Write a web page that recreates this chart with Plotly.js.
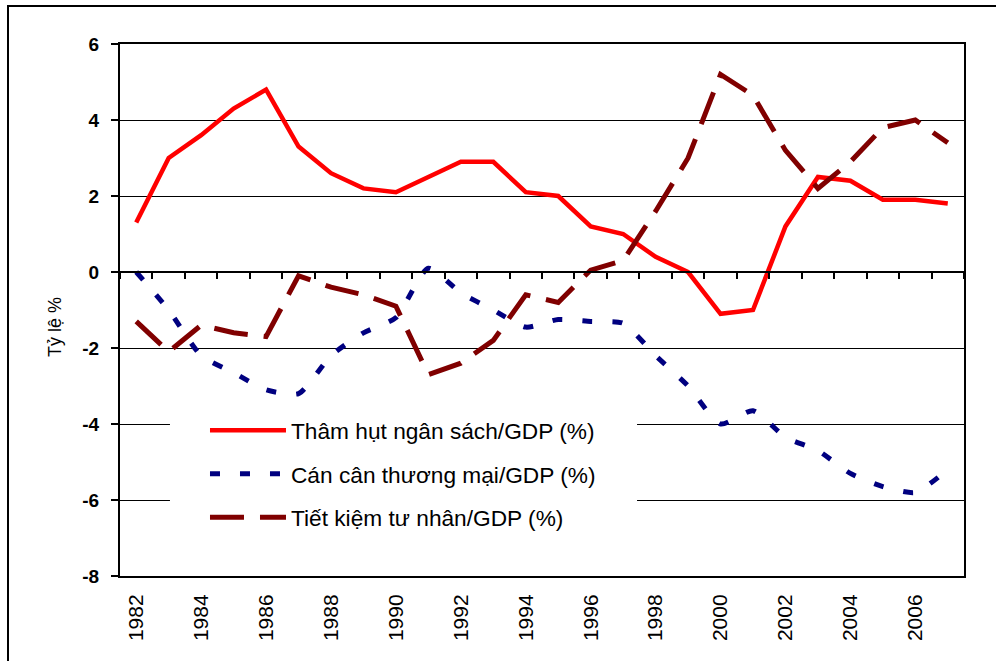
<!DOCTYPE html>
<html>
<head>
<meta charset="utf-8">
<script src="https://cdn.plot.ly/plotly-3.0.1.min.js"></script>
<style>html,body{margin:0;padding:0;background:#fff;}#chart{width:996px;height:661px;}</style>
</head>
<body>
<div id="chart"></div>
<script>
const years = ['1982','1983','1984','1985','1986','1987','1988','1989','1990','1991','1992','1993','1994','1995','1996','1997','1998','1999','2000','2001','2002','2003','2004','2005','2006','2007'];
const tickYears = ['1982','1984','1986','1988','1990','1992','1994','1996','1998','2000','2002','2004','2006'];
const yTickVals = [-8, -6, -4, -2, 0, 2, 4, 6];
const yTickText = ['-8', '-6', '-4', '-2', '0', '2', '4', '6'];
const budgetDeficit = [1.3, 3.0, 3.6, 4.3, 4.8, 3.3, 2.6, 2.2, 2.1, 2.5, 2.9, 2.9, 2.1, 2.0, 1.2, 1.0, 0.4, 0.0, -1.1, -1.0, 1.2, 2.5, 2.4, 1.9, 1.9, 1.8];
const tradeBalance = [0.0, -1.0, -2.2, -2.65, -3.1, -3.2, -2.2, -1.6, -1.2, 0.1, -0.55, -1.0, -1.45, -1.25, -1.3, -1.35, -2.2, -3.0, -4.0, -3.65, -4.35, -4.7, -5.3, -5.65, -5.8, -5.2];
const privateSaving = [-1.3, -2.1, -1.4, -1.6, -1.7, -0.1, -0.4, -0.6, -0.9, -2.7, -2.4, -1.8, -0.6, -0.8, 0.05, 0.3, 1.6, 3.0, 5.2, 4.65, 3.2, 2.2, 2.9, 3.8, 4.0, 3.4];
const seriesNames = ['Thâm hụt ngân sách/GDP (%)', 'Cán cân thương mại/GDP (%)', 'Tiết kiệm tư nhân/GDP (%)'];
const yTitle = 'Tỷ lệ %';

const FONT = 'Liberation Sans, Arial, sans-serif';

const traces = [
  {x: years, y: budgetDeficit, name: seriesNames[0], type: 'scatter', mode: 'lines',
   line: {color: '#FF0000', width: 4.5}, legendgroup: 'a'},
  {x: years, y: tradeBalance, name: seriesNames[1], type: 'scatter', mode: 'lines',
   line: {color: '#000080', width: 5, dash: '10px,20px', shape: 'spline', smoothing: 0.6}, legendgroup: 'b'},
  {x: years, y: privateSaving, name: seriesNames[2], type: 'scatter', mode: 'lines',
   line: {color: '#800000', width: 5, dash: '34px,16px'}, legendgroup: 'c'},
  {x: years, y: years.map(() => null), xaxis: 'x2', yaxis: 'y', type: 'scatter', mode: 'lines',
   showlegend: false, hoverinfo: 'skip'}
];

const layout = {
  width: 996, height: 661,
  margin: {l: 120, r: 32, t: 44, b: 85},
  paper_bgcolor: '#ffffff', plot_bgcolor: '#ffffff',
  font: {family: FONT, color: '#000'},
  showlegend: true,
  xaxis: {
    type: 'category', categoryorder: 'array', categoryarray: years,
    range: [-0.5, 25.5], fixedrange: true,
    tickmode: 'array', tickvals: tickYears, ticktext: tickYears,
    tickangle: -90, ticks: '', showgrid: false, zeroline: false,
    tickfont: {family: FONT, size: 21, color: '#000'},
    ticklabelstandoff: 8,
    showline: true, linecolor: '#000', linewidth: 2, mirror: true
  },
  xaxis2: {
    type: 'category', categoryorder: 'array', categoryarray: years,
    overlaying: 'x', matches: 'x', anchor: 'free', position: 8/14,
    range: [-0.5, 25.5],
    showticklabels: false, ticks: 'outside', ticklen: 6, tickwidth: 2, tickcolor: '#000',
    tickson: 'boundaries', showgrid: false, zeroline: false,
    showline: true, linecolor: '#000', linewidth: 2
  },
  yaxis: {
    range: [-8, 6], tickmode: 'array', tickvals: yTickVals, ticktext: yTickText, fixedrange: true,
    showgrid: true, gridcolor: '#000', gridwidth: 1, zeroline: false,
    showline: true, linecolor: '#000', linewidth: 2, mirror: true,
    ticks: 'outside', ticklen: 7, tickwidth: 1.5, tickcolor: '#000',
    ticklabelstandoff: 8,
    tickfont: {family: FONT, size: 19, color: '#000', weight: 'bold'},
    automargin: false
  },
  annotations: [
    {text: yTitle, xref: 'paper', yref: 'paper', x: -0.077, y: 0.468,
     xanchor: 'center', yanchor: 'middle', textangle: -90, showarrow: false,
     font: {family: FONT, size: 18, color: '#000'}}
  ],
  legend: {
    x: 0.1007, xanchor: 'left', y: 0.314, yanchor: 'top',
    bgcolor: '#ffffff', borderwidth: 0,
    font: {family: FONT, size: 22.7, color: '#000'},
    itemwidth: 76, tracegroupgap: 11, traceorder: 'grouped'
  },
  shapes: [
    {type: 'rect', xref: 'paper', yref: 'paper', x0: -0.1327, x1: 1.06, y0: -0.2, y1: 1.0715,
     line: {color: '#000', width: 2}, fillcolor: 'rgba(0,0,0,0)', layer: 'above'},
    {type: 'rect', xref: 'paper', yref: 'paper', x0: 0.0592, x1: 0.6126, y0: 0.067, y1: 0.3116,
     line: {width: 0}, fillcolor: '#ffffff', layer: 'above'}
  ]
};

Plotly.newPlot('chart', traces, layout, {staticPlot: true, displayModeBar: false});
</script>
</body>
</html>
